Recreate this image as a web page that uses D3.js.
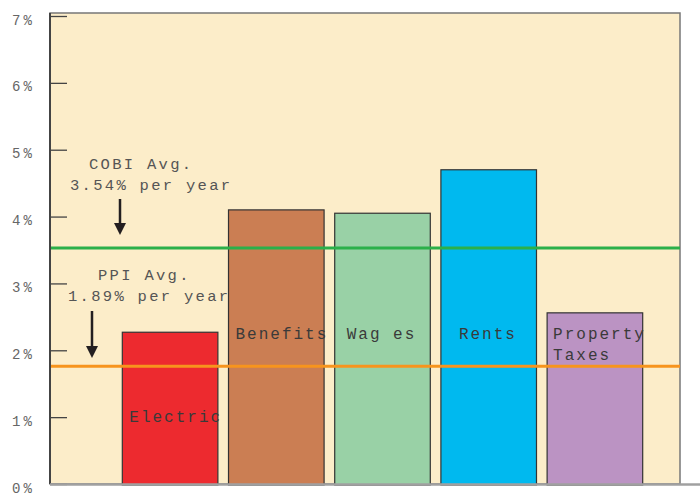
<!DOCTYPE html>
<html>
<head>
<meta charset="utf-8">
<script src="https://cdn.jsdelivr.net/npm/d3@7"></script>
<style>
  body { margin: 0; background: #fff; }
  text { font-family: "Liberation Mono", "Courier New", monospace; }
</style>
</head>
<body>
<script>
const w = 700;
const h = 496;

// data
const categories = ["Electric", "Benefits", "Wages", "Rents", "Property Taxes"];
const barLabels = [["Electric"], ["Benefits"], ["Wag es"], ["Rents"], ["Property", "Taxes"]];
const values = [2.27, 4.10, 4.05, 4.70, 2.56];
const barColors = ["#ed2a2f", "#cb7e53", "#99d1a6", "#00b9ef", "#bb93c3"];
const yTicks = [0, 1, 2, 3, 4, 5, 6, 7];
const avgLines = [
  {name: "COBI", value: 3.54, lineValue: 3.53, color: "#2bb04a", text: ["COBI Avg.", "3.54% per year"]},
  {name: "PPI", value: 1.89, lineValue: 1.76, color: "#f7941d", text: ["PPI Avg.", "1.89% per year"]}
];

const plotLeft = 50, plotRight = 680, plotTop = 13, plotBottom = 484;

const yScale = d3.scaleLinear()
                 .domain([0, 7])
                 .range([plotBottom, 16]);

const xScale = d3.scaleBand()
                 .domain(categories)
                 .range([117, 648])
                 .paddingInner(0.1)
                 .paddingOuter(0.05);

const svg = d3.select("body")
              .append("svg")
              .attr("width", w)
              .attr("height", h);

// plot background
svg.append("rect")
   .attr("x", plotLeft)
   .attr("y", plotTop)
   .attr("width", plotRight - plotLeft)
   .attr("height", plotBottom - plotTop)
   .attr("fill", "#fcedc9")
   .attr("stroke", "#777")
   .attr("stroke-width", 1.5);

// y axis with inward ticks
const yAxis = d3.axisLeft(yScale)
                .tickValues(yTicks)
                .tickSize(-17)
                .tickFormat(d => d + "%");

const gy = svg.append("g")
   .attr("transform", "translate(" + plotLeft + ",0)")
   .call(yAxis);
gy.select(".domain").remove();
gy.selectAll(".tick line")
  .attr("stroke", "#444")
  .attr("stroke-width", 1.3);
gy.selectAll(".tick text")
  .attr("x", -38)
  .attr("dy", "0.58em")
  .attr("text-anchor", "start")
  .attr("fill", "#666")
  .attr("font-size", 14)
  .attr("letter-spacing", 3);

// left border
svg.append("line")
   .attr("x1", plotLeft).attr("x2", plotLeft)
   .attr("y1", plotTop).attr("y2", plotBottom)
   .attr("stroke", "#444")
   .attr("stroke-width", 2);

// bars
svg.selectAll(".bar")
   .data(values)
   .enter()
   .append("rect")
   .attr("class", "bar")
   .attr("x", (d, i) => xScale(categories[i]))
   .attr("y", d => yScale(d))
   .attr("width", xScale.bandwidth())
   .attr("height", d => yScale(0) - yScale(d) + 1)
   .attr("fill", (d, i) => barColors[i])
   .attr("stroke", "#333")
   .attr("stroke-width", 1.2);

// bottom line
svg.append("line")
   .attr("x1", plotLeft).attr("x2", w)
   .attr("y1", plotBottom + 0.5).attr("y2", plotBottom + 0.5)
   .attr("stroke", "#a0a0a0")
   .attr("stroke-width", 2.5);

// average lines
svg.selectAll(".avg")
   .data(avgLines)
   .enter()
   .append("line")
   .attr("class", "avg")
   .attr("x1", plotLeft + 1).attr("x2", plotRight)
   .attr("y1", d => yScale(d.lineValue))
   .attr("y2", d => yScale(d.lineValue))
   .attr("stroke", d => d.color)
   .attr("stroke-width", 3);

// bar labels
const labelY = [1.0, 2.25, 2.25, 2.25, 2.25];
const labelDx = [7, 7, 12, 18, 6];
barLabels.forEach((lines, i) => {
  const t = svg.append("text")
     .attr("x", xScale(categories[i]) + labelDx[i])
     .attr("y", yScale(labelY[i]) + 5)
     .attr("fill", "#3a3a3a")
     .attr("font-size", 16)
     .attr("letter-spacing", 2);
  lines.forEach((s, j) => {
    t.append("tspan")
     .attr("x", xScale(categories[i]) + labelDx[i])
     .attr("dy", j === 0 ? 0 : 21)
     .text(s);
  });
});

// annotations
const annoX = [[89, 70], [98, 68]];
const annoY = [[169, 190], [280, 301]];
const arrowX = [120, 92];
const arrowY = [[199, 235], [311, 358]];
avgLines.forEach((a, i) => {
  a.text.forEach((s, j) => {
    svg.append("text")
       .attr("x", annoX[i][j])
       .attr("y", annoY[i][j])
       .attr("fill", "#555")
       .attr("font-size", 15.5)
       .attr("letter-spacing", 2.3)
       .text(s);
  });
  const ax = arrowX[i], y1 = arrowY[i][0], y2 = arrowY[i][1];
  svg.append("line")
     .attr("x1", ax).attr("x2", ax)
     .attr("y1", y1).attr("y2", y2 - 8)
     .attr("stroke", "#231f20")
     .attr("stroke-width", 2.5);
  svg.append("path")
     .attr("d", "M" + (ax - 6) + "," + (y2 - 12) + "L" + (ax + 6) + "," + (y2 - 12) + "L" + ax + "," + y2 + "Z")
     .attr("fill", "#231f20");
});
</script>
</body>
</html>
